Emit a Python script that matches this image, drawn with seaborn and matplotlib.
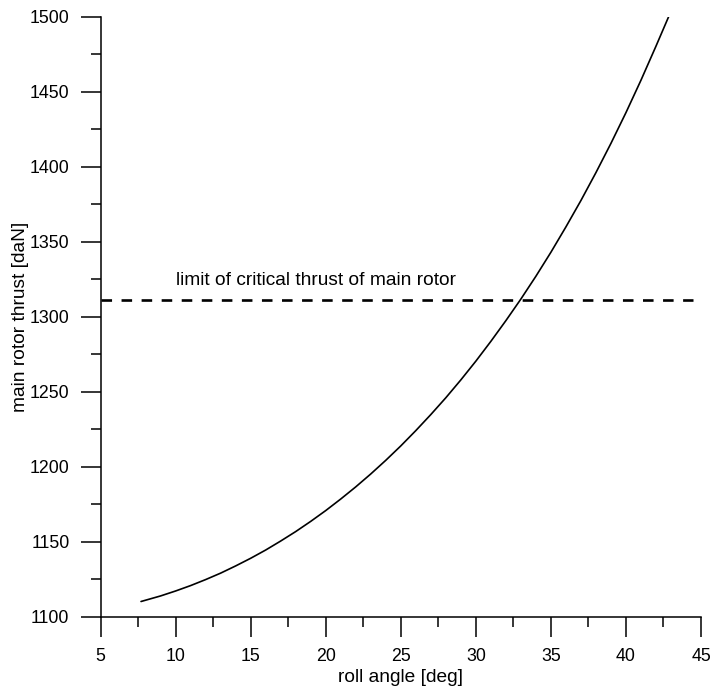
import matplotlib
matplotlib.use("Agg")
import matplotlib.pyplot as plt
from matplotlib.ticker import MultipleLocator
import pandas as pd
import seaborn as sns

# Main rotor thrust required at each roll angle
roll_angle = [7.7, 9, 10, 11, 12, 13, 14, 15, 16, 17, 18, 19, 20, 21, 22,
              23, 24, 25, 26, 27, 28, 29, 30, 31, 32, 33, 34, 35, 36, 37,
              38, 39, 40, 41, 42, 42.85]
rotor_thrust = [1110.0, 1113.7, 1117.0, 1120.6, 1124.6, 1128.9, 1133.7,
                1138.8, 1144.3, 1150.3, 1156.6, 1163.4, 1170.6, 1178.3,
                1186.4, 1195.0, 1204.1, 1213.7, 1223.9, 1234.6, 1245.8,
                1257.7, 1270.2, 1283.4, 1297.2, 1311.6, 1326.8, 1342.8,
                1359.7, 1377.3, 1395.9, 1415.4, 1435.9, 1457.5, 1480.2,
                1500.0]

# Critical thrust limit of the main rotor
limit_x = [5.0, 44.5]
limit_thrust = [1311, 1311]
limit_label = "limit of critical thrust of main rotor"

x_ticks = [5, 10, 15, 20, 25, 30, 35, 40, 45]
y_ticks = [1100, 1150, 1200, 1250, 1300, 1350, 1400, 1450, 1500]

sns.set_theme(style="ticks")
plt.rcParams["font.family"] = ["Liberation Sans", "DejaVu Sans"]

fig = plt.figure(figsize=(7.12, 6.87), dpi=100)
ax = fig.add_axes([100.5 / 712, 1 - 616.5 / 687, 600.5 / 712, 600 / 687])

curve = pd.DataFrame({"roll": roll_angle, "thrust": rotor_thrust})
sns.lineplot(data=curve, x="roll", y="thrust", ax=ax, color="black",
             linewidth=1.2, sort=False)

limit = pd.DataFrame({"roll": limit_x, "thrust": limit_thrust})
sns.lineplot(data=limit, x="roll", y="thrust", ax=ax, color="black",
             linewidth=1.9, linestyle=(0, (4.0, 3.6)))

ax.text(10.0, 1324, limit_label, fontsize=13.8, color="black",
        ha="left", va="center")

ax.set_xlim(5, 45)
ax.set_ylim(1100, 1500)
ax.set_xticks(x_ticks)
ax.set_yticks(y_ticks)
ax.xaxis.set_minor_locator(MultipleLocator(2.5))
ax.yaxis.set_minor_locator(MultipleLocator(25))

for side in ("top", "right"):
    ax.spines[side].set_visible(False)
for side in ("left", "bottom"):
    ax.spines[side].set_linewidth(1.1)
    ax.spines[side].set_color("black")

ax.tick_params(which="major", direction="out", length=14.4, width=1.1,
               color="black", labelsize=12.8, labelcolor="black", pad=8)
ax.tick_params(which="minor", direction="out", length=7.2, width=1.1,
               color="black")

ax.set_xlabel("roll angle [deg]", fontsize=13.8, color="black",
              labelpad=3)
ax.set_ylabel("main rotor thrust [daN]", fontsize=13.8, color="black",
              labelpad=0.5)

fig.savefig("out.png", dpi=100, facecolor="white")
